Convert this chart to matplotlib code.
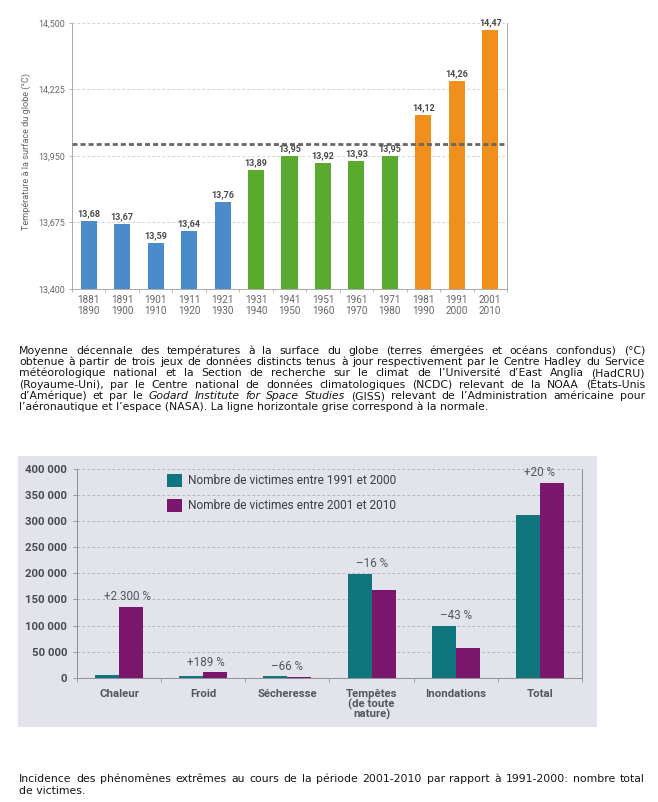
import matplotlib
matplotlib.use("Agg")
import matplotlib.pyplot as plt
from matplotlib.patches import Rectangle
import numpy as np

# ---------------- data ----------------
periods = ["1881\n1890", "1891\n1900", "1901\n1910", "1911\n1920", "1921\n1930",
           "1931\n1940", "1941\n1950", "1951\n1960", "1961\n1970", "1971\n1980",
           "1981\n1990", "1991\n2000", "2001\n2010"]
temps = [13.68, 13.67, 13.59, 13.64, 13.76, 13.89, 13.95, 13.92, 13.93, 13.95,
         14.12, 14.26, 14.47]
temp_groups = ["a"] * 5 + ["b"] * 5 + ["c"] * 3
normal_temp = 14.0
temp_ticks = [13.400, 13.675, 13.950, 14.225, 14.500]
temp_ylabel = "Température à la surface du globe (°C)"

categories = ["Chaleur", "Froid", "Sécheresse", "Tempêtes\n(de toute\nnature)",
              "Inondations", "Total"]
victims_1991_2000 = [5700, 3600, 3000, 199000, 100000, 311000]
victims_2001_2010 = [136000, 10200, 1000, 168000, 57000, 374000]
changes = ["+2 300 %", "+189 %", "–66 %", "–16 %", "–43 %", "+20 %"]
victim_ticks = [0, 50000, 100000, 150000, 200000, 250000, 300000, 350000, 400000]
legend_labels = ["Nombre de victimes entre 1991 et 2000",
                 "Nombre de victimes entre 2001 et 2010"]

caption1 = [
    "Moyenne décennale des températures à la surface du globe (terres émergées et océans confondus) (°C)",
    "obtenue à partir de trois jeux de données distincts tenus à jour respectivement par le Centre Hadley du Service",
    "météorologique national et la Section de recherche sur le climat de l’Université d’East Anglia (HadCRU)",
    "(Royaume-Uni), par le Centre national de données climatologiques (NCDC) relevant de la NOAA (États-Unis",
    "d’Amérique) et par le _Godard _Institute _for _Space _Studies (GISS) relevant de l’Administration américaine pour",
    "l’aéronautique et l’espace (NASA). La ligne horizontale grise correspond à la normale.",
]
caption2 = [
    "Incidence des phénomènes extrêmes au cours de la période 2001-2010 par rapport à 1991-2000: nombre total",
    "de victimes.",
]

# ---------------- style ----------------
W, H = 658, 802
group_colors = {"a": "#4b8bca", "b": "#5aaa30", "c": "#f0901c"}
teal = "#10767e"
purple = "#7a176c"
panel_color = "#e3e4eb"
chart_font = "Roboto"

fig = plt.figure(figsize=(W / 100, H / 100), dpi=100, facecolor="white")


def fx(px):
    return px / W


def fy(py):
    return 1 - py / H


# ---------------- chart 1 ----------------
ax1 = fig.add_axes([fx(72), fy(289), fx(507) - fx(72), fy(22.7) - fy(289)])
x1 = np.arange(len(temps))
ax1.bar(x1, temps, width=0.48, color=[group_colors[g] for g in temp_groups], zorder=3)
ax1.set_xlim(-0.5, len(temps) - 0.5)
ax1.set_ylim(temp_ticks[0], temp_ticks[-1])
ax1.set_yticks(temp_ticks)
ax1.set_yticklabels([f"{t:.3f}".replace(".", ",") for t in temp_ticks])
ax1.set_xticks(x1)
ax1.set_xticklabels(periods, linespacing=1.15)
ax1.set_xticks(np.arange(-0.5, len(temps)), minor=True)
ax1.tick_params(axis="x", which="major", length=0, pad=4.5, labelsize=7.2,
                labelcolor="#666666")
ax1.tick_params(axis="x", which="minor", length=2.5, color="#aaaaaa", width=0.6)
ax1.tick_params(axis="y", length=2, color="#aaaaaa", width=0.6, pad=3,
                labelsize=6.4, labelcolor="#666666")
for lab in ax1.get_xticklabels() + ax1.get_yticklabels():
    lab.set_family(chart_font)
ax1.spines["top"].set_visible(False)
for s in ["left", "right", "bottom"]:
    ax1.spines[s].set_color("#aaaaaa")
    ax1.spines[s].set_linewidth(0.7)
ax1.yaxis.grid(True, color="#c6c6c6", linewidth=0.6, linestyle=(0, (3, 3)), zorder=0)
ax1.set_axisbelow(True)
ax1.axhline(normal_temp, color="#666666", linewidth=2.0, linestyle=(0, (1.8, 1.1)),
            zorder=4)
for xi, t in zip(x1, temps):
    ax1.annotate(f"{t:.2f}".replace(".", ","), (xi, t), xytext=(0, 2),
                 textcoords="offset points", ha="center", va="bottom",
                 fontsize=6.5, fontweight="bold", color="#4a4a4a", family=chart_font,
                 zorder=5)
fig.text(fx(26), fy(151), temp_ylabel, rotation=90, ha="center", va="center",
         fontsize=6.6, color="#666666", family=chart_font)

# ---------------- chart 2 ----------------
fig.patches.append(Rectangle((fx(18), fy(727)), fx(597) - fx(18), fy(456) - fy(727),
                             transform=fig.transFigure, facecolor=panel_color,
                             edgecolor="none", zorder=-5))
ax2 = fig.add_axes([fx(77), fy(677.7), fx(582) - fx(77), fy(469) - fy(677.7)])
ax2.set_zorder(2)
ax2.set_facecolor("none")
x2 = np.arange(len(categories))
bw = 0.286
b1 = ax2.bar(x2 - bw / 2, victims_1991_2000, width=bw, color=teal, zorder=3,
             label=legend_labels[0])
b2 = ax2.bar(x2 + bw / 2, victims_2001_2010, width=bw, color=purple, zorder=3,
             label=legend_labels[1])
ax2.set_xlim(-0.5, len(categories) - 0.5)
ax2.set_ylim(victim_ticks[0], victim_ticks[-1])
ax2.set_yticks(victim_ticks)
ax2.set_yticklabels([f"{v:,}".replace(",", " ") for v in victim_ticks])
ax2.set_xticks(x2)
ax2.set_xticklabels(categories, linespacing=0.95)
ax2.set_xticks(np.arange(-0.5, len(categories)), minor=True)
ax2.tick_params(axis="x", which="major", length=0, pad=8, labelsize=8.2,
                labelcolor="#55565c")
ax2.tick_params(axis="x", which="minor", length=3, color="#8d8e96", width=0.6)
ax2.tick_params(axis="y", length=3, color="#8d8e96", width=0.6, pad=4,
                labelsize=8.2, labelcolor="#4a4b50")
for lab in ax2.get_xticklabels() + ax2.get_yticklabels():
    lab.set_family(chart_font)
    lab.set_fontweight("bold")
ax2.spines["top"].set_visible(False)
for s in ["left", "right", "bottom"]:
    ax2.spines[s].set_color("#8d8e96")
    ax2.spines[s].set_linewidth(0.7)
ax2.yaxis.grid(True, color="#a9abb4", linewidth=0.6, linestyle=(0, (3, 3)), zorder=0)
ax2.set_axisbelow(True)
label_dx_px = [8, 3, 0, 0, 0, 0]
for i, (a, b, c) in enumerate(zip(victims_1991_2000, victims_2001_2010, changes)):
    ax2.annotate(c, (x2[i], max(a, b)), xytext=(label_dx_px[i] * 0.72, 2.5),
                 textcoords="offset points", ha="center", va="bottom",
                 fontsize=8.4, color="#55565c", family=chart_font, zorder=5)
fs_px = 8.6 * 100 / 72
leg = ax2.legend(handles=[b1, b2], loc="upper left",
                 bbox_to_anchor=(fx(167), fy(474)), bbox_transform=fig.transFigure,
                 frameon=False, borderaxespad=0, borderpad=0,
                 handlelength=15 / fs_px, handleheight=15 / fs_px,
                 handletextpad=6 / fs_px, labelspacing=11.5 / fs_px,
                 prop={"family": chart_font, "size": 8.6})
for t in leg.get_texts():
    t.set_color("#3c3d42")

# ---------------- captions (justified) ----------------
renderer = fig.canvas.get_renderer()


def measure(s, size, style="normal"):
    t = fig.text(0, 0, s, fontsize=size, family="DejaVu Sans", fontstyle=style)
    w = t.get_window_extent(renderer).width
    t.remove()
    return w


cap_size = 10 * 468 / measure(caption1[-1].replace("_", ""), 10)


def draw_line(line, base_y, justify, x0=19, x1=645):
    if not justify:
        fig.text(fx(x0), fy(base_y), line.replace("_", ""), fontsize=cap_size,
                 family="DejaVu Sans", color="#151515", ha="left", va="baseline")
        return
    items = []
    for w in line.split(" "):
        style = "italic" if w.startswith("_") else "normal"
        w = w.lstrip("_")
        t = fig.text(0, 0, w, fontsize=cap_size, family="DejaVu Sans",
                     fontstyle=style, color="#151515", ha="left", va="baseline")
        items.append((t, t.get_window_extent(renderer).width))
    total = sum(w for _, w in items)
    gap = (x1 - x0 - total) / (len(items) - 1)
    x = x0
    for t, w in items:
        t.set_position((fx(x), fy(base_y)))
        x += w + gap


for i, line in enumerate(caption1):
    draw_line(line, 354 + 11.25 * i, justify=(i < len(caption1) - 1))
for i, line in enumerate(caption2):
    draw_line(line, 782 + 11.5 * i, justify=(i < len(caption2) - 1))

fig.savefig("out.png", dpi=100, facecolor="white")
